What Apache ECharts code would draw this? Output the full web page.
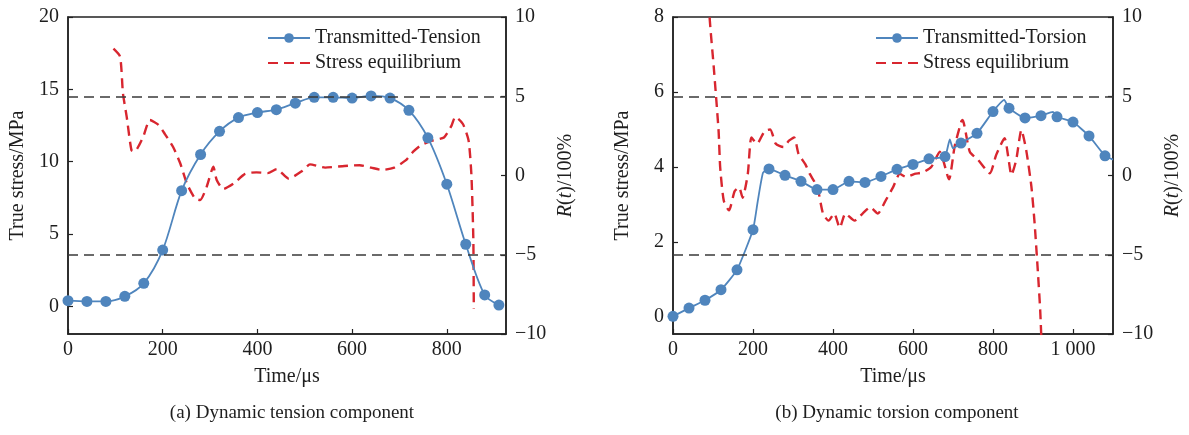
<!DOCTYPE html>
<html>
<head>
<meta charset="utf-8">
<script src="https://cdn.jsdelivr.net/npm/echarts@6/dist/echarts.min.js"></script>
<style>
html,body{margin:0;padding:0;background:#fff;}
#chart{width:1189px;height:435px;}
</style>
</head>
<body>
<div id="chart"></div>
<script>
// ---- data (a) tension ----
const tensionX = [0,40,80,120,160,200,240,280,320,360,400,440,480,520,560,600,640,680,720,760,800,840,880,910];
const tensionY = [0.4,0.35,0.35,0.7,1.6,3.9,8.0,10.5,12.1,13.05,13.4,13.6,14.05,14.45,14.45,14.4,14.55,14.4,13.55,11.65,8.45,4.3,0.8,0.1];
const rTensionX = [96,110,116,124,134,141,150,159,173,191,205,222,237,251,268,279,293,307,314,328,350,374,398,422,441,466,495,511,543,584,616,640,664,689,713,729,745,769,794,810,818,834,846,852,856,857];
const rTensionY = [8.0,7.5,5.2,3.7,1.6,1.5,1.9,2.45,3.5,3.2,2.6,1.8,0.77,-0.5,-1.44,-1.55,-0.7,0.55,-0.28,-0.85,-0.5,0.1,0.2,0.15,0.4,-0.2,0.3,0.7,0.5,0.6,0.65,0.5,0.35,0.5,0.95,1.5,1.9,2.2,2.4,3.15,3.7,3.25,2.2,0.0,-4.0,-8.4];
// ---- data (b) torsion ----
const torsionX = [0,40,80,120,160,200,240,280,320,360,400,440,480,520,560,600,640,680,720,760,800,840,880,920,960,1000,1040,1080];
const torsionY = [0.02,0.24,0.45,0.73,1.26,2.33,3.95,3.78,3.62,3.4,3.4,3.62,3.59,3.75,3.94,4.07,4.22,4.28,4.64,4.9,5.48,5.57,5.31,5.37,5.34,5.2,4.83,4.3];
const torsionExtraX = [212,225,692,700,828,950,1100];
const torsionExtraY = [3.1,3.85,4.74,4.5,5.79,5.47,4.2];
const rTorsionX = [88,92,102,114,118,127,140,154,165,174,187,196,210,229,243,257,276,290,303,314,331,342,361,375,389,403,417,431,454,474,493,512,531,550,567,583,604,625,646,667,690,704,721,724,742,763,792,808,829,838,846,858,871,883,896,904,912,918,922];
const rTorsionY = [12,9.8,6.8,2.8,0.5,-1.6,-2.2,-1.0,-0.75,-1.4,0.1,2.4,2.0,2.8,2.9,2.0,1.8,2.2,2.4,1.35,0.7,0.1,-0.75,-2.4,-2.85,-2.4,-3.3,-2.4,-2.85,-2.4,-2.0,-2.4,-1.6,-0.75,0.1,-0.1,0.1,0.2,0.55,1.5,-0.24,1.82,3.43,3.5,1.5,0.98,0.14,1.3,2.35,1.19,0.03,0.98,2.87,1.6,-0.7,-3.0,-6,-8.5,-11];
const equilibriumBounds = [5, -5];
const namesA = ['Transmitted-Tension', 'Stress equilibrium'];
const namesB = ['Transmitted-Torsion', 'Stress equilibrium'];
const captions = ['(a) Dynamic tension component', '(b) Dynamic torsion component'];
const xName = 'Time/\u03bcs';
const yName = 'True stress/MPa';
const rName = '{i|R}({i|t})/100%';

// ---- helpers ----
const FONT = '"Liberation Serif", "Times New Roman", serif';
const TXT = '#1e1e1e';
const BLUE = '#4f85bd';
const RED = '#d8262f';
const zip = (xs, ys) => xs.map((x, i) => [x, ys[i]]);
const minus = v => String(v).replace('-', '\u2212');

const torsionData = zip(torsionX, torsionY).map(p => ({value: p}))
  .concat(zip(torsionExtraX, torsionExtraY).map(p => ({value: p, symbol: 'none'})))
  .sort((a, b) => a.value[0] - b.value[0]);

function xAxisCfg(gridIndex, max) {
  return {
    type: 'value', gridIndex, min: 0, max, interval: 200,
    name: xName, nameLocation: 'middle', nameGap: 33,
    nameTextStyle: {fontFamily: FONT, fontSize: 20, color: TXT},
    axisLine: {show: true, onZero: false, lineStyle: {color: '#222', width: 1.5}},
    axisTick: {show: true, inside: true, length: 5, lineStyle: {color: '#222', width: 1.2}},
    axisLabel: {fontFamily: FONT, fontSize: 20, color: TXT, margin: 6, showMaxLabel: false,
      formatter: v => (v % 200 !== 0) ? '' : (v >= 1000 ? String(v).replace(/(\d)(\d{3})$/, '$1 $2') : String(v))},
    splitLine: {show: false}
  };
}
function yLeftCfg(gridIndex, min, max) {
  return {
    type: 'value', gridIndex, min, max, position: 'left',
    name: yName, nameLocation: 'middle', nameRotate: 90, nameGap: 40,
    nameTextStyle: {fontFamily: FONT, fontSize: 20, color: TXT},
    axisLine: {show: true, onZero: false, lineStyle: {color: '#222', width: 1.5}},
    axisTick: {show: true, inside: true, length: 5, lineStyle: {color: '#222', width: 1.2}},
    axisLabel: {fontFamily: FONT, fontSize: 20, color: TXT, margin: 9, showMinLabel: false,
      formatter: v => minus(v)},
    splitLine: {show: false}
  };
}
function yRightCfg(gridIndex) {
  return {
    type: 'value', gridIndex, min: -10, max: 10, interval: 5, position: 'right',
    name: rName, nameLocation: 'middle', nameRotate: 90, nameGap: 50,
    nameTextStyle: {fontFamily: FONT, fontSize: 20, color: TXT,
      rich: {i: {fontFamily: FONT, fontSize: 20, fontStyle: 'italic', color: TXT}}},
    axisLine: {show: true, onZero: false, lineStyle: {color: '#222', width: 1.5}},
    axisTick: {show: true, inside: true, length: 5, lineStyle: {color: '#222', width: 1.2}},
    axisLabel: {fontFamily: FONT, fontSize: 20, color: TXT, margin: 9, formatter: v => minus(v)},
    splitLine: {show: false}
  };
}
function blueSeries(name, xi, yi, data, smooth) {
  return {
    name, type: 'line', xAxisIndex: xi, yAxisIndex: yi, data, smooth,
    symbol: 'circle', symbolSize: 11, showAllSymbol: true,
    lineStyle: {color: BLUE, width: 1.8}, itemStyle: {color: BLUE}, z: 3
  };
}
function redSeries(name, xi, yi, data) {
  return {
    name, type: 'line', xAxisIndex: xi, yAxisIndex: yi, data, smooth: 0.2,
    symbol: 'none', showSymbol: false,
    lineStyle: {color: RED, width: 2.4, type: [10, 6]}, itemStyle: {color: RED}, z: 2,
    markLine: {
      silent: true, symbol: 'none', label: {show: false},
      lineStyle: {color: '#3a3a3a', width: 1.6, type: [10, 6]},
      data: equilibriumBounds.map(v => ({yAxis: v}))
    }
  };
}
function legendCfg(left, names) {
  return {
    data: [{name: names[0]}, {name: names[1], itemStyle: {opacity: 0}}],
    left, top: 23, orient: 'vertical', itemWidth: 42, itemHeight: 12, itemGap: 5,
    textStyle: {fontFamily: FONT, fontSize: 20, color: TXT, lineHeight: 20},
    selectedMode: false
  };
}

const chart = echarts.init(document.getElementById('chart'), null, {renderer: 'canvas'});
chart.setOption({
  backgroundColor: '#fff',
  animation: false,
  grid: [
    {left: 68, right: 683, top: 17, bottom: 101, show: true, borderColor: '#222', borderWidth: 1.5},
    {left: 673, right: 76, top: 17, bottom: 101, show: true, borderColor: '#222', borderWidth: 1.5}
  ],
  xAxis: [xAxisCfg(0, 925), xAxisCfg(1, 1100)],
  yAxis: [yLeftCfg(0, -1.9, 20), yRightCfg(0), yLeftCfg(1, -0.45, 8), yRightCfg(1)],
  legend: [legendCfg(262, namesA), legendCfg(870, namesB)],
  series: [
    blueSeries(namesA[0], 0, 0, zip(tensionX, tensionY), 0.3),
    redSeries(namesA[1], 0, 1, zip(rTensionX, rTensionY)),
    blueSeries(namesB[0], 1, 2, torsionData, 0.15),
    redSeries(namesB[1], 1, 3, zip(rTorsionX, rTorsionY))
  ],
  graphic: [
    {type: 'text', x: 292, y: 413, style: {text: captions[0], textAlign: 'center', textVerticalAlign: 'middle', font: '19px ' + FONT, fill: TXT}},
    {type: 'text', x: 897, y: 413, style: {text: captions[1], textAlign: 'center', textVerticalAlign: 'middle', font: '19px ' + FONT, fill: TXT}}
  ]
});
</script>
</body>
</html>
